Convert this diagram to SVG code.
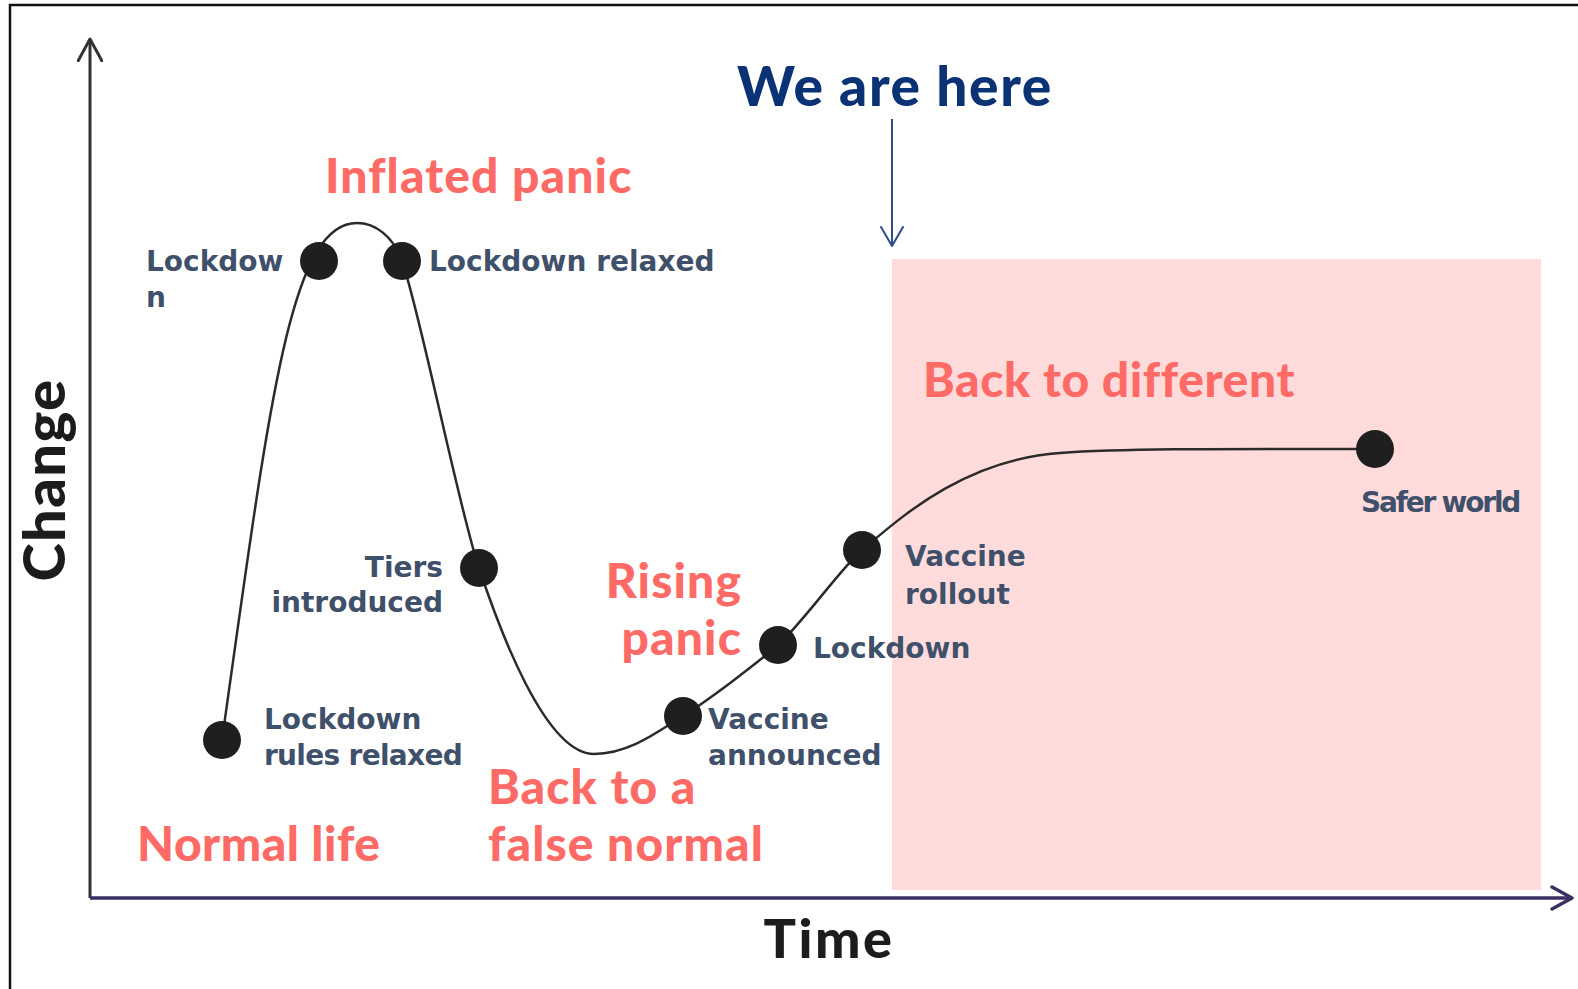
<svg xmlns="http://www.w3.org/2000/svg" width="1578" height="989" viewBox="0 0 1578 989">
<style>
.lbl{font-family:"DejaVu Sans","Liberation Sans",sans-serif;font-weight:bold;font-size:28px;fill:#3f506b}
.head{font-family:Lato,"Liberation Sans",sans-serif;font-weight:900;font-size:48px;fill:#fe6a65;letter-spacing:1.1px}
.axt{font-family:Lato,"Liberation Sans",sans-serif;font-weight:900;fill:#1c1c1c}
.dot{fill:#1f1f1f}
</style>
<defs>
<marker id="chevY" viewBox="0 0 26 26" refX="23" refY="13" markerWidth="26" markerHeight="26" markerUnits="userSpaceOnUse" orient="auto">
<path d="M1,1 L23,13 L1,25" fill="none" stroke="#333" stroke-width="3" stroke-linecap="round" stroke-linejoin="round"/>
</marker>
<marker id="chevX" viewBox="0 0 26 26" refX="22" refY="13" markerWidth="26" markerHeight="26" markerUnits="userSpaceOnUse" orient="auto">
<path d="M2,2 L22,13 L2,24" fill="none" stroke="#3b2f63" stroke-width="3.5" stroke-linecap="round" stroke-linejoin="round"/>
</marker>
<marker id="chevH" viewBox="0 0 24 24" refX="20" refY="12" markerWidth="24" markerHeight="24" markerUnits="userSpaceOnUse" orient="auto">
<path d="M1,1 L20,12 L1,23" fill="none" stroke="#2c4d87" stroke-width="2" stroke-linecap="round" stroke-linejoin="round"/>
</marker>
</defs>
<rect x="0" y="0" width="1578" height="989" fill="#fff"/>
<rect id="frame" x="10" y="5" width="1600" height="1000" fill="none" stroke="#111" stroke-width="2.5"/>
<rect id="zone" x="892" y="259" width="649" height="631" fill="#ffdcdb"/>

<g id="connectors" fill="none">
<path id="y-axis" d="M90,898 L90,39" stroke="#333" stroke-width="3" marker-end="url(#chevY)"/>
<path id="x-axis" d="M90,898 L1572,898" stroke="#3b2f63" stroke-width="3.5" marker-end="url(#chevX)"/>
<path id="here-arrow" d="M892,119 L892,246" stroke="#2c4d87" stroke-width="2" marker-end="url(#chevH)"/>
<path id="curve" stroke="#2b2b2b" stroke-width="2.5" d="M222,740 C270,400 290,223 357,223 C375,223 393,236 402,261 C420,311 459,510 479,568 C499,628 545,754 594,754 C630,754 660,730 683,716 C706,702 755,665 778,645 C800,626 842,567 862,550 C895,523 960,460 1060,453 C1130,448 1250,449 1375,449"/>
</g>

<g id="heading-here"><text x="895" y="106" text-anchor="middle" font-family="Lato, 'Liberation Sans', sans-serif" font-weight="900" font-size="55" fill="#0b3275" letter-spacing="1.6">We are here</text></g>
<g id="heading-inflated"><text class="head" x="325" y="193">Inflated panic</text></g>
<g id="heading-different"><text class="head" x="923" y="397" style="letter-spacing:0.6px">Back to different</text></g>
<g id="heading-rising"><text class="head" text-anchor="end" x="742" y="598">Rising</text><text class="head" text-anchor="end" x="742" y="655">panic</text></g>
<g id="heading-false"><text class="head" x="488" y="804">Back to a</text><text class="head" x="488" y="861">false normal</text></g>
<g id="heading-normal"><text class="head" x="137" y="861" style="letter-spacing:0.5px">Normal life</text></g>
<g id="axis-change"><text class="axt" font-size="58" letter-spacing="1.3" transform="translate(65,480) rotate(-90)" text-anchor="middle">Change</text></g>
<g id="axis-time"><text class="axt" font-size="54" letter-spacing="2.5" x="829" y="958" text-anchor="middle">Time</text></g>

<g id="n-rules-relaxed"><circle class="dot" cx="222" cy="740" r="19"/><text class="lbl" x="264" y="729">Lockdown</text><text class="lbl" x="264" y="765" letter-spacing="-0.7">rules relaxed</text></g>
<g id="n-lockdown1"><circle class="dot" cx="319" cy="261" r="19"/><text class="lbl" x="146" y="271">Lockdow</text><text class="lbl" x="146" y="307">n</text></g>
<g id="n-lockdown-relaxed"><circle class="dot" cx="402" cy="261" r="19"/><text class="lbl" x="429" y="271">Lockdown relaxed</text></g>
<g id="n-tiers"><circle class="dot" cx="479" cy="568" r="19"/><text class="lbl" x="443" y="577" text-anchor="end">Tiers</text><text class="lbl" x="443" y="612" text-anchor="end">introduced</text></g>
<g id="n-vaccine-announced"><circle class="dot" cx="683" cy="716" r="19"/><text class="lbl" x="708" y="729">Vaccine</text><text class="lbl" x="708" y="765">announced</text></g>
<g id="n-lockdown2"><circle class="dot" cx="778" cy="645" r="19"/><text class="lbl" x="813" y="658">Lockdown</text></g>
<g id="n-vaccine-rollout"><circle class="dot" cx="862" cy="550" r="19"/><text class="lbl" x="905" y="566">Vaccine</text><text class="lbl" x="905" y="604">rollout</text></g>
<g id="n-safer-world"><circle class="dot" cx="1375" cy="449" r="19"/><text class="lbl" x="1361" y="512" letter-spacing="-2.2">Safer world</text></g>
</svg>
